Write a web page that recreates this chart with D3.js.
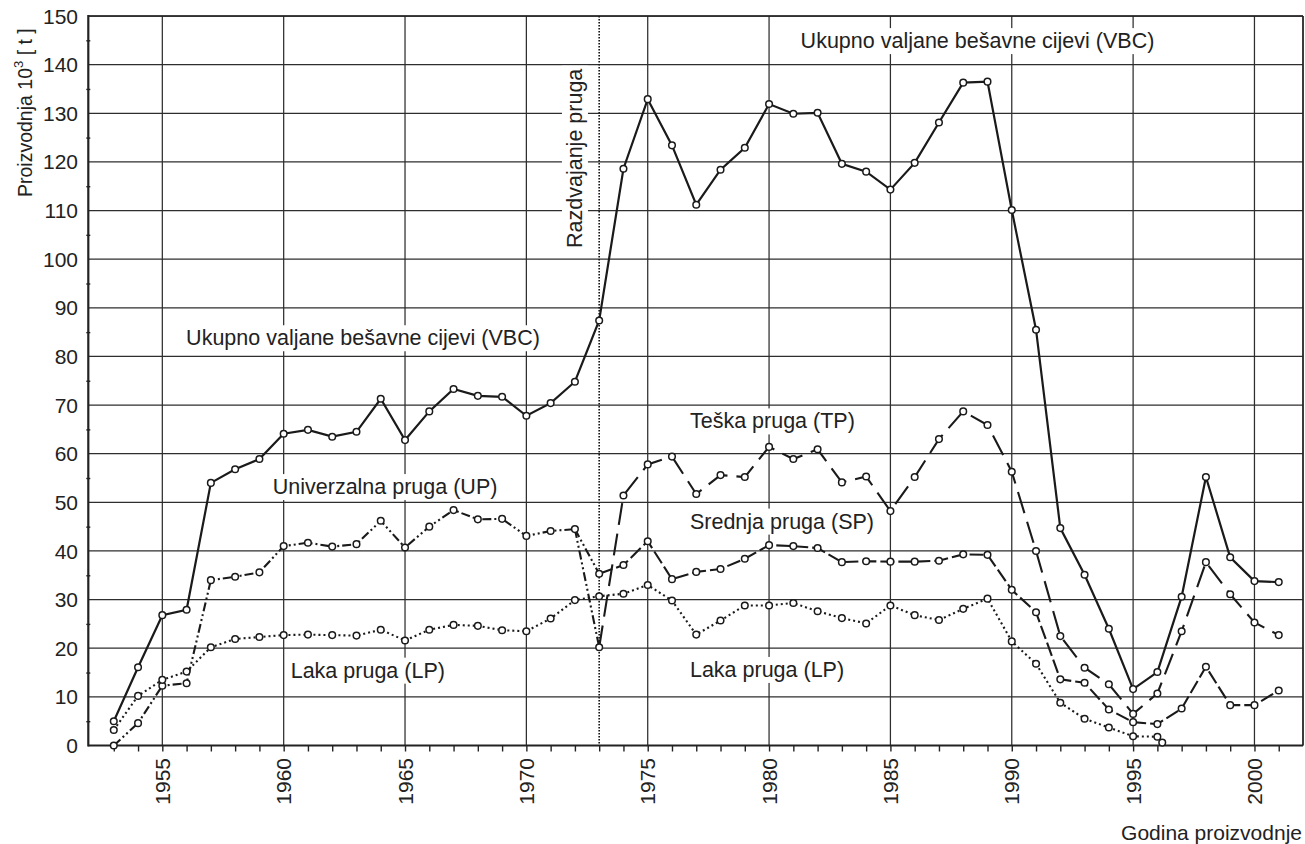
<!DOCTYPE html>
<html>
<head>
<meta charset="utf-8">
<script src="https://cdn.jsdelivr.net/npm/d3@7"></script>
<style>
  body { margin: 0; background: #fff; }
  text { font-family: "Liberation Sans", Arial, sans-serif; fill: #222; }
</style>
</head>
<body>
<div id="chart"></div>
<script>
// Ukupno valjane bešavne cijevi (VBC), 1953–2001
const vbcStart = 1953;
const vbcValues = [5.0, 16.1, 26.8, 27.9, 54.0, 56.8, 58.9, 64.1, 64.9, 63.5,
  64.5, 71.3, 62.8, 68.7, 73.3, 71.9, 71.7, 67.8, 70.4, 74.8,
  87.4, 118.6, 132.9, 123.4, 111.2, 118.4, 122.9, 131.9, 129.9, 130.1,
  119.6, 118.0, 114.3, 119.8, 128.1, 136.3, 136.5, 110.1, 85.5, 44.7,
  35.1, 24.0, 11.6, 15.1, 30.6, 55.2, 38.7, 33.8, 33.6];

// Univerzalna pruga (UP), 1953–1972
const upStart = 1953;
const upValues = [0, 4.6, 12.3, 12.8, 34.0, 34.7, 35.6, 41.0, 41.7, 40.9,
  41.4, 46.2, 40.7, 45.0, 48.4, 46.5, 46.6, 43.1, 44.1, 44.5];

// Laka pruga (LP), 1953–1996 and a last point just after 1996
const lpStart = 1953;
const lpValues = [3.2, 10.2, 13.5, 15.2, 20.2, 21.9, 22.3, 22.7, 22.8, 22.7,
  22.6, 23.8, 21.6, 23.8, 24.8, 24.6, 23.7, 23.5, 26.1, 29.9,
  30.7, 31.2, 33.0, 29.8, 22.8, 25.7, 28.8, 28.8, 29.3, 27.6,
  26.2, 25.1, 28.8, 26.8, 25.8, 28.1, 30.2, 21.4, 16.8, 8.8,
  5.5, 3.7, 1.9, 1.8];
const lpLastPoint = { year: 1996.2, value: 0.6 };

// Teška pruga (TP), 1973–2001
const tpStart = 1973;
const tpValues = [20.2, 51.4, 57.8, 59.4, 51.7, 55.6, 55.2, 61.4, 58.9, 60.9,
  54.1, 55.3, 48.2, 55.2, 63.0, 68.7, 65.9, 56.3, 40.0, 22.5,
  16.0, 12.6, 6.5, 10.7, 23.5, 37.7, 31.1, 25.3, 22.7];

// Srednja pruga (SP), 1973–2001
const spStart = 1973;
const spValues = [35.3, 37.1, 42.0, 34.2, 35.7, 36.3, 38.4, 41.2, 41.0, 40.6,
  37.7, 37.9, 37.8, 37.8, 38.0, 39.3, 39.2, 32.0, 27.4, 13.6,
  12.9, 7.4, 4.8, 4.4, 7.6, 16.2, 8.3, 8.3, 11.3];

const splitYear = 1973; // Razdvajanje pruga
const yTickValues = [0, 10, 20, 30, 40, 50, 60, 70, 80, 90, 100, 110, 120, 130, 140, 150];
const xTickYears = [1955, 1960, 1965, 1970, 1975, 1980, 1985, 1990, 1995, 2000];

function drawChart() {
  const width = 1305, height = 844;
  const plotLeft = 88.3, plotRight = 1303, plotTop = 16, plotBottom = 745.5;

  const x = d3.scaleLinear().domain([1951.95, 2002]).range([plotLeft, plotRight]);
  const y = d3.scaleLinear().domain([0, 150]).range([plotBottom, plotTop]);

  const toPoints = (start, values) => values.map((v, i) => ({ year: start + i, value: v }));
  const vbc = toPoints(vbcStart, vbcValues);
  const up = toPoints(upStart, upValues);
  const lp = toPoints(lpStart, lpValues).concat([lpLastPoint]);
  const tp = toPoints(tpStart, tpValues);
  const sp = toPoints(spStart, spValues);

  const svg = d3.select("#chart").append("svg")
    .attr("width", width).attr("height", height);

  // grid
  const grid = svg.append("g").attr("stroke", "#2e2e2e").attr("stroke-width", 1.25);
  grid.selectAll("line.h").data(yTickValues.filter(d => d > 0)).join("line")
    .attr("class", "h")
    .attr("x1", plotLeft).attr("x2", plotRight)
    .attr("y1", d => y(d)).attr("y2", d => y(d));
  grid.selectAll("line.v").data(xTickYears.concat([2002])).join("line")
    .attr("class", "v")
    .attr("x1", d => x(d)).attr("x2", d => x(d))
    .attr("y1", plotTop).attr("y2", plotBottom);

  // split line
  svg.append("line")
    .attr("x1", x(splitYear)).attr("x2", x(splitYear))
    .attr("y1", plotTop).attr("y2", plotBottom)
    .attr("stroke", "#111").attr("stroke-width", 1.6)
    .attr("stroke-dasharray", "1.5,1.5");

  // labels with white background (drawn before lines)
  const labelLayer = svg.append("g");
  function addLabel(text, px, py, rotate) {
    const g = labelLayer.append("g")
      .attr("transform", `translate(${px},${py})` + (rotate ? " rotate(-90)" : ""));
    const t = g.append("text").attr("font-size", 21.5).text(text);
    const b = t.node().getBBox();
    g.insert("rect", "text")
      .attr("x", b.x - 3).attr("y", b.y - 1)
      .attr("width", b.width + 6).attr("height", b.height + 2)
      .attr("fill", "#fff");
  }
  addLabel("Ukupno valjane bešavne cijevi (VBC)", x(1955.98), y(82.3));
  addLabel("Ukupno valjane bešavne cijevi (VBC)", x(1981.3), y(143.4));
  addLabel("Univerzalna pruga (UP)", x(1959.55), y(51.7));
  addLabel("Teška pruga (TP)", x(1976.74), y(65.2));
  addLabel("Srednja pruga (SP)", x(1976.74), y(44.6));
  addLabel("Laka pruga (LP)", x(1960.29), y(13.95));
  addLabel("Laka pruga (LP)", x(1976.74), y(14.1));
  addLabel("Razdvajanje pruga", x(1972.29), y(102.3), true);

  // frame
  svg.append("line").attr("x1", plotLeft).attr("x2", plotRight).attr("y1", plotTop).attr("y2", plotTop)
    .attr("stroke", "#222").attr("stroke-width", 1.6);
  svg.append("line").attr("x1", plotRight).attr("x2", plotRight).attr("y1", plotTop).attr("y2", plotBottom)
    .attr("stroke", "#222").attr("stroke-width", 1.4);

  const yAxis = d3.axisLeft(y).tickValues(d3.range(5, 150, 10)).tickSize(4).tickFormat("");
  svg.append("g").attr("transform", `translate(${plotLeft + 2},0)`).call(yAxis)
    .call(g => g.select(".domain").remove())
    .call(g => g.selectAll("line").attr("stroke", "#222").attr("stroke-width", 1.4));
  svg.selectAll("text.ytick").data(yTickValues).join("text")
    .attr("class", "ytick")
    .attr("x", 78).attr("y", d => y(d))
    .attr("dy", "0.36em").attr("text-anchor", "end")
    .attr("font-size", 21).text(d => d);

  const xAxis = d3.axisBottom(x).tickValues(d3.range(1953, 2002)).tickSize(6).tickFormat("");
  svg.append("g").attr("transform", `translate(0,${plotBottom})`).call(xAxis)
    .call(g => g.select(".domain").remove())
    .call(g => g.selectAll("line").attr("stroke", "#222").attr("stroke-width", 1.4));
  svg.selectAll("text.xtick").data(xTickYears).join("text")
    .attr("class", "xtick")
    .attr("transform", d => `translate(${x(d)},758) rotate(-90)`)
    .attr("dy", "0.36em").attr("text-anchor", "end")
    .attr("font-size", 21).text(d => d);

  svg.append("line").attr("x1", plotLeft).attr("x2", plotLeft).attr("y1", plotTop - 1).attr("y2", plotBottom + 1)
    .attr("stroke", "#222").attr("stroke-width", 2.2);
  svg.append("line").attr("x1", plotLeft).attr("x2", plotRight).attr("y1", plotBottom).attr("y2", plotBottom)
    .attr("stroke", "#222").attr("stroke-width", 2.2);

  // axis titles
  const yTitle = svg.append("text")
    .attr("transform", "translate(32,197) rotate(-90)")
    .attr("font-size", 19.5);
  yTitle.append("tspan").text("Proizvodnja 10");
  yTitle.append("tspan").attr("font-size", 13).attr("dy", -9).text("3");
  yTitle.append("tspan").attr("dy", 9).text(" [ t ]");

  svg.append("text").attr("x", 1302).attr("y", 840)
    .attr("text-anchor", "end").attr("font-size", 21).text("Godina proizvodnje");

  // series
  const line = d3.line().x(d => x(d.year)).y(d => y(d.value));
  const series = svg.append("g").attr("fill", "none").attr("stroke", "#1a1a1a").attr("stroke-width", 2.1);

  series.append("path").datum(up).attr("d", line).attr("stroke-dasharray", "9,3,2,3,2,3");
  // 1972 -> 1973 split branches in UP style
  const upEnd = up[up.length - 1];
  series.append("path").datum([upEnd, tp[0]]).attr("d", line).attr("stroke-dasharray", "9,3,2,3,2,3");
  series.append("path").datum([upEnd, sp[0]]).attr("d", line).attr("stroke-dasharray", "9,3,2,3,2,3");

  series.append("path").datum(lp).attr("d", line).attr("stroke-dasharray", "2,3");
  series.append("path").datum(sp).attr("d", line).attr("stroke-dasharray", "14,4");
  series.append("path").datum(tp).attr("d", line).attr("stroke-dasharray", "22,9");
  series.append("path").datum(vbc).attr("d", line).attr("stroke-width", 2.2);

  // markers
  const allPoints = [].concat(up, lp, tp, sp, vbc);
  svg.append("g").selectAll("circle").data(allPoints).join("circle")
    .attr("cx", d => x(d.year)).attr("cy", d => y(d.value))
    .attr("r", 3.3).attr("fill", "#fff")
    .attr("stroke", "#1a1a1a").attr("stroke-width", 1.5);
}

drawChart();
</script>
</body>
</html>
